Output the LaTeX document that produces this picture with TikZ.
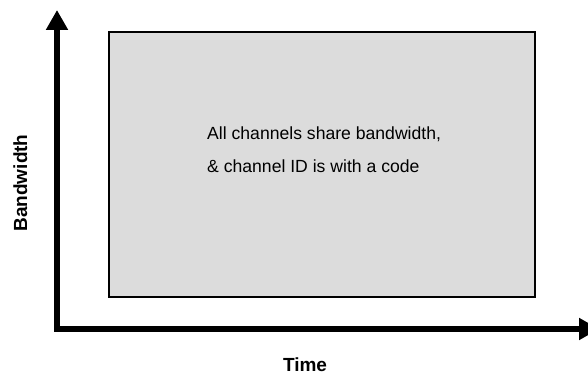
\documentclass[tikz,border=0pt]{standalone}
\usepackage{fontspec}
\setmainfont{Liberation Sans}
\usetikzlibrary{arrows.meta}
\definecolor{areagray}{HTML}{DCDCDC}
\tikzset{
  axisline/.style={line width=6pt, line join=miter,
    {Triangle[length=20pt,width=21pt]}-{Triangle[length=20pt,width=21pt]}},
  areabox/.style={draw=black, line width=2pt, fill=areagray,
    minimum width=426pt, minimum height=265pt, inner sep=0pt},
  axislabel/.style={font=\fontsize{19}{22}\selectfont\bfseries, inner sep=0pt},
  bodytext/.style={font=\fontsize{17.6}{33}\selectfont, align=left, inner sep=0pt}
}
\begin{document}
\begin{tikzpicture}[x=1pt,y=1pt]
  \useasboundingbox (0,0) rectangle (588,374);
  \clip (0,0) rectangle (588,374);
  % shared channel area
  \node[areabox] (area) at (322,209.5) {};
  % two-line note; the base anchor sits on the last line's baseline
  \node[bodytext, anchor=base west] (note) at (207,201)
    {All channels share bandwidth,\\ \& channel ID is with a code};
  % axes
  \coordinate (ytop) at (57,364);
  \coordinate (origin) at (57,45);
  \coordinate (xend) at (599,45);
  \draw[axisline] (ytop) -- (origin) -- (xend);
  % axis labels
  \node[axislabel, rotate=90, anchor=base] (ylab) at (27,191) {Bandwidth};
  \node[axislabel, anchor=base] (xlab) at (305,2.5) {Time};
\end{tikzpicture}
\end{document}
